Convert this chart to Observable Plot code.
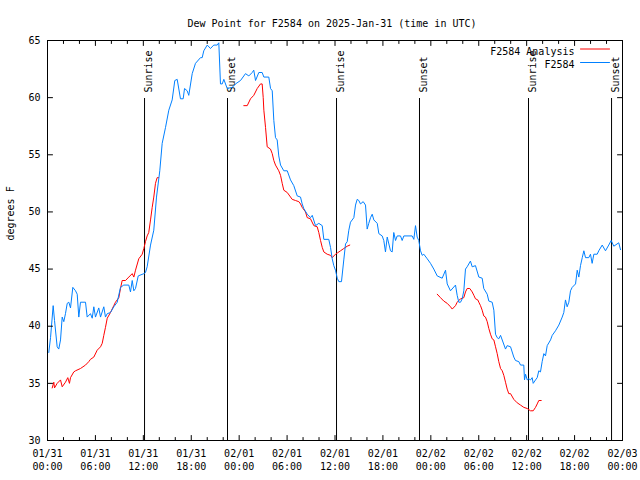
<!DOCTYPE html>
<html><head><meta charset="utf-8">
<script src="https://cdn.jsdelivr.net/npm/d3@7"></script>
<script src="https://cdn.jsdelivr.net/npm/@observablehq/plot@0.6"></script>
<style>body{margin:0;background:#fff}</style>
</head><body><div id="chart"></div>
<script>
const title = "Dew Point for F2584 on 2025-Jan-31 (time in UTC)";
const yLabel = "degrees F";
const xTickHours = [0,6,12,18,24,30,36,42,48,54,60,66,72];
const xTickDates = ["01/31","01/31","01/31","01/31","02/01","02/01","02/01","02/01","02/02","02/02","02/02","02/02","02/03"];
const xTickTimes = ["00:00","06:00","12:00","18:00","00:00","06:00","12:00","18:00","00:00","06:00","12:00","18:00","00:00"];
const xMinorHours = [2,4,8,10,14,16,20,22,26,28,32,34,38,40,44,46,50,52,56,58,62,64,68,70];
const yTicks = [30,35,40,45,50,55,60,65];

// F2584 observations (hours since 2025-01-31 00:00 UTC, degrees F)
const obsHours = [0.16,0.38,0.71,0.88,1.21,1.41,1.63,1.84,2.04,2.25,2.47,2.67,2.88,3.17,3.51,3.72,3.92,4.13,4.76,4.97,5.38,5.60,5.80,6.01,6.42,6.64,7.05,7.26,7.48,7.89,8.30,8.73,9.14,9.55,10.18,10.39,10.61,10.81,11.02,11.36,12.06,12.27,12.48,12.90,13.31,13.65,14.06,14.36,14.78,15.19,15.61,15.94,16.24,16.65,16.99,17.16,17.49,17.69,18.12,18.53,19.16,19.37,19.57,20.00,20.41,20.82,21.25,21.45,21.66,21.88,22.08,22.50,23.13,23.54,24.17,24.79,25.21,25.63,25.83,26.05,26.46,26.88,27.09,27.71,27.93,28.14,28.34,28.55,28.76,28.96,29.18,29.59,30.02,30.43,30.84,31.27,31.68,31.89,32.09,32.52,32.93,33.15,33.56,33.97,34.40,34.60,35.22,35.44,35.65,35.85,36.06,36.28,36.48,36.81,37.10,37.32,37.53,37.73,37.94,38.36,38.57,38.78,38.98,39.19,39.53,39.82,40.03,40.23,40.45,40.66,40.86,41.29,41.49,41.91,42.11,42.32,42.54,42.95,43.16,43.36,43.58,43.79,44.20,44.41,44.62,45.66,45.87,46.08,46.29,46.49,46.71,46.92,47.12,47.55,47.96,48.37,48.80,49.42,49.84,50.05,50.46,51.09,51.30,51.50,51.72,51.93,52.13,52.34,52.55,52.96,53.18,53.59,54.01,54.43,54.63,55.06,55.26,55.68,55.89,56.10,56.31,56.51,56.73,57.35,57.56,57.98,58.39,58.60,59.02,59.23,59.64,59.73,59.86,60.07,60.27,60.48,60.69,60.82,61.11,61.32,61.52,61.73,61.94,62.15,62.36,62.57,62.99,63.20,63.61,64.03,64.45,64.65,64.86,65.07,65.28,65.49,65.70,66.12,66.33,66.53,66.74,66.96,67.16,67.37,67.78,67.99,68.20,68.41,68.83,69.03,69.46,69.87,70.28,70.58,70.91,71.53,71.75];
const obsValues = [37.7,39.0,41.8,40.5,38.2,38.0,38.8,40.8,40.4,41.1,42.0,42.1,41.6,43.4,43.1,42.8,40.8,42.1,42.1,40.8,41.1,40.7,41.7,40.8,41.6,40.8,41.7,40.8,41.1,41.2,41.7,42.1,43.4,43.6,43.6,43.0,44.0,43.1,43.3,44.4,44.6,44.7,45.2,47.1,48.4,51.3,53.6,56.0,57.4,58.9,59.8,61.5,61.6,59.9,59.9,60.8,60.6,60.2,62.1,63.0,63.5,63.5,64.1,64.6,64.3,64.6,64.6,64.8,61.2,61.2,61.6,60.8,60.9,61.2,61.5,62.1,61.9,62.2,62.4,61.5,62.2,62.2,61.8,61.8,60.8,60.6,58.0,56.5,56.3,54.9,54.1,53.6,53.6,52.8,52.3,51.4,51.3,50.7,50.3,49.8,49.5,49.7,48.8,49.0,48.8,47.6,47.6,46.9,45.9,45.3,44.9,44.2,43.9,43.9,45.8,47.2,47.4,48.4,49.1,49.5,50.6,51.1,51.0,50.7,50.9,50.6,48.5,49.0,49.5,49.8,49.3,49.0,48.1,47.9,47.5,46.5,47.8,46.6,46.5,48.2,47.5,47.9,47.9,47.5,47.9,47.9,47.6,48.8,47.8,47.5,46.6,46.2,46.3,45.9,45.5,45.0,44.4,44.2,44.9,43.7,43.1,43.6,42.7,42.1,42.1,42.4,43.1,45.0,45.2,45.7,45.2,45.3,44.3,44.2,43.3,42.8,42.2,42.1,41.4,39.3,39.0,38.9,39.2,38.0,38.3,38.2,37.3,37.0,36.9,36.6,36.6,35.3,35.8,35.3,35.4,35.3,35.5,35.0,35.3,35.5,36.1,36.0,36.9,37.6,37.4,38.3,38.8,39.2,39.6,40.1,40.8,41.2,42.3,41.7,42.1,43.1,43.4,43.7,44.9,44.3,45.3,46.0,46.6,46.0,46.0,46.3,45.5,46.3,46.3,46.6,47.1,46.6,47.1,47.5,47.0,47.3,46.7];

// F2584 Analysis, three runs
const anaHours1 = [0.59,0.79,0.88,1.21,1.63,1.84,2.25,2.54,2.75,2.88,3.29,3.51,4.13,4.76,5.17,5.38,5.80,6.22,6.64,6.85,7.05,7.26,7.48,7.89,8.30,8.51,8.93,9.14,9.35,9.77,10.18,10.61,10.81,11.02,11.43,11.86,12.06,12.27,12.48,12.68,12.90,13.11,13.31,13.52,13.73,13.90];
const anaValues1 = [34.6,35.1,34.6,35.0,35.3,34.7,35.1,35.5,35.0,35.5,36.0,36.1,36.3,36.6,36.9,37.1,37.3,37.9,38.2,38.5,39.2,39.9,40.7,41.2,41.8,42.1,42.5,43.3,44.0,44.0,44.3,44.6,44.3,44.9,45.9,46.3,46.8,47.4,47.9,48.2,49.3,50.4,51.3,52.5,53.0,53.0];
const anaHours2 = [24.58,25.01,25.42,25.83,26.26,26.67,26.88,27.01,27.09,27.30,27.51,27.92,28.14,28.34,28.55,28.96,29.18,29.39,29.59,30.02,30.43,30.64,31.05,31.47,31.68,31.89,32.31,32.52,32.93,33.35,33.77,33.97,34.19,34.40,34.60,35.02,35.44,35.65,36.06,36.28,36.69,37.10,37.53,37.85];
const anaValues2 = [59.3,59.3,59.9,60.2,60.8,61.2,61.2,60.0,58.9,57.4,55.7,55.5,55.1,54.5,54.1,53.6,53.2,52.5,51.9,51.7,51.3,51.1,51.0,50.9,50.7,50.4,50.0,49.5,49.4,48.8,48.7,48.2,47.5,46.9,46.5,46.3,46.2,46.0,46.3,46.4,46.6,46.8,47.0,47.1];
const anaHours3 = [48.80,49.21,49.62,50.05,50.46,50.68,51.09,51.30,51.72,52.13,52.34,52.55,52.88,53.18,53.39,53.59,53.88,54.01,54.22,54.43,54.63,54.84,55.06,55.26,55.47,55.68,55.89,56.10,56.31,56.51,56.73,56.94,57.14,57.35,57.56,57.76,57.98,58.39,58.81,59.23,59.64,60.07,60.48,60.82,61.11,61.32,61.52,61.82];
const anaValues3 = [42.8,42.5,42.2,42.0,41.7,41.5,41.8,42.1,42.4,42.5,43.0,43.3,43.3,43.0,42.7,42.4,42.3,42.1,41.8,41.4,40.9,40.8,40.4,39.8,39.3,38.9,38.8,38.2,37.6,36.9,36.3,36.1,35.7,35.1,34.5,34.1,34.1,33.6,33.3,33.1,32.9,32.8,32.6,32.6,32.9,33.2,33.5,33.5];

const sunHours = [12.15,22.54,36.19,46.58,60.23,70.63];
const sunLabels = ["Sunrise","Sunset","Sunrise","Sunset","Sunrise","Sunset"];
const legendNames = ["F2584 Analysis","F2584"];
const seriesColors = ["#ff0000","#0080ff"];

const font = "'DejaVu Sans Mono', monospace";
const obs = obsHours.map((h,i)=>({h, v: obsValues[i]}));
const ana = [[anaHours1,anaValues1],[anaHours2,anaValues2],[anaHours3,anaValues3]]
  .flatMap(([H,V],s)=>H.map((h,i)=>({h, v: V[i], seg: s})));
const sun = sunHours.map((h,i)=>({h, label: sunLabels[i]}));

const lineShape = {draw(ctx, l){ ctx.moveTo(0,0); ctx.lineTo(0,-l); }};
const tickOpts = {stroke:"black", strokeWidth:1, shape: lineShape, anchor:"start"};

const legendMarks = legendNames.flatMap((name, i) => [
  Plot.text([name], {text: d=>d, frameAnchor:"top-right", dx:-48, dy: 7 + 13*i, textAnchor:"end", fill:"black", fontSize:10}),
  Plot.vector([name], {frameAnchor:"top-right", dx:-13, dy: 8.5 + 13.5*i, rotate:-90, length:29, stroke: seriesColors[i], strokeWidth:1, shape: lineShape, anchor:"start"})
]);

const chart = Plot.plot({
  width: 640, height: 480,
  marginLeft: 47, marginRight: 18, marginTop: 40, marginBottom: 40,
  style: {fontFamily: font, fontSize: "10px", background: "#fff", color: "#000"},
  x: {domain: [0,72]},
  y: {domain: [30,65]},
  marks: [
    Plot.ruleX(sun, {x:"h", stroke:"black", strokeWidth:1, insetTop:58}),
    Plot.text(sun, {x:"h", text:"label", frameAnchor:"top", dy:52, rotate:-90, textAnchor:"start", fontSize:10, fill:"black"}),
    Plot.line(ana, {x:"h", y:"v", z:"seg", stroke: seriesColors[0], strokeWidth:1}),
    Plot.line(obs, {x:"h", y:"v", stroke: seriesColors[1], strokeWidth:1}),
    Plot.frame({stroke:"black", strokeWidth:1}),
    Plot.vector(xTickHours, {x: d=>d, frameAnchor:"bottom", rotate:0, length:5, ...tickOpts}),
    Plot.vector(xMinorHours, {x: d=>d, frameAnchor:"bottom", rotate:0, length:3, ...tickOpts}),
    Plot.vector(xTickHours, {x: d=>d, frameAnchor:"top", rotate:180, length:5, ...tickOpts}),
    Plot.vector(xMinorHours, {x: d=>d, frameAnchor:"top", rotate:180, length:3, ...tickOpts}),
    Plot.vector(yTicks, {y: d=>d, frameAnchor:"left", rotate:90, length:5, ...tickOpts}),
    Plot.vector(yTicks, {y: d=>d, frameAnchor:"right", rotate:-90, length:5, ...tickOpts}),
    Plot.axisX(xTickHours, {anchor:"bottom", tickSize:0, tickPadding:7, lineHeight:1.3, label:null,
      tickFormat: d => xTickDates[xTickHours.indexOf(d)] + "\n" + xTickTimes[xTickHours.indexOf(d)], fontSize:10}),
    Plot.axisY(yTicks, {anchor:"left", tickSize:0, tickPadding:7, label:null, tickFormat: d => String(d), fontSize:10}),
    Plot.text([title], {text: d=>d, frameAnchor:"top", dy:-21, dx:-3, fontSize:10, fill:"black"}),
    Plot.text([yLabel], {text: d=>d, frameAnchor:"left", dx:-37, rotate:-90, fontSize:10, fill:"black"}),
    ...legendMarks
  ]
});
document.getElementById("chart").appendChild(chart);
</script></body></html>
